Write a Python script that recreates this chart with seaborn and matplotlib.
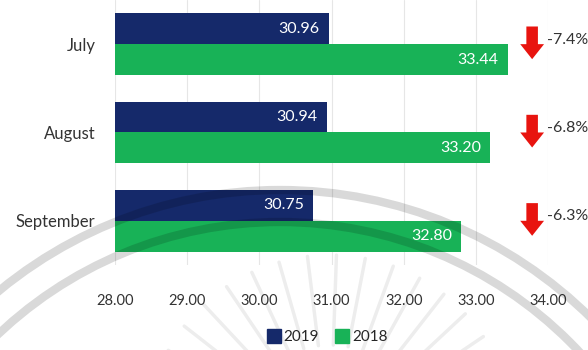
import matplotlib
matplotlib.use("Agg")
import matplotlib.pyplot as plt
import seaborn as sns
import pandas as pd
import numpy as np
from matplotlib.patches import Arc, Polygon

months = ["July", "August", "September"]
years = ["2019", "2018"]
values_2019 = [30.96, 30.94, 30.75]
values_2018 = [33.44, 33.20, 32.80]
changes = ["-7.4%", "-6.8%", "-6.3%"]
x_ticks = [28, 29, 30, 31, 32, 33, 34]

navy = "#15296a"
green = "#18b257"

df = pd.DataFrame({
    "month": months * 2,
    "year": ["2019"] * 3 + ["2018"] * 3,
    "value": values_2019 + values_2018,
})

sns.set_theme(style="white")
plt.rcParams["font.family"] = ["Lato", "DejaVu Sans"]

fig = plt.figure(figsize=(5.88, 3.5), dpi=100)
ax = fig.add_axes([0.1956, 0.243, 0.7364, 0.757])

sns.barplot(data=df, y="month", x="value", hue="year", order=months,
            hue_order=years, palette=[navy, green], orient="h",
            width=0.7, saturation=1, ax=ax, legend=False,
            edgecolor="none", linewidth=0)

ax.set_xlim(28, 34)
ax.set_xticks(x_ticks)
ax.set_xticklabels([f"{t:.2f}" for t in x_ticks], fontsize=10.5, color="#333333")
ax.tick_params(axis="x", pad=21, length=0)
ax.tick_params(axis="y", pad=14, length=0, labelsize=12, labelcolor="#333333")
ax.set_xlabel("")
ax.set_ylabel("")
ax.xaxis.grid(True, color="#e6e6e6", lw=0.8)
ax.set_axisbelow(True)
for s in ax.spines.values():
    s.set_visible(False)

for container in ax.containers:
    for bar in container:
        v = bar.get_width()
        ax.text(v - 0.13, bar.get_y() + bar.get_height() / 2, f"{v:.2f}",
                ha="right", va="center", color="white", fontsize=11.5)

# red down arrows with the year-on-year change
for i, ch in enumerate(changes):
    xc, top, bot = 33.78, i - 0.2, i + 0.17
    sw, hw, hl = 0.08, 0.165, 0.17
    pts = [(xc - sw, top), (xc + sw, top), (xc + sw, bot - hl), (xc + hw, bot - hl),
           (xc, bot), (xc - hw, bot - hl), (xc - sw, bot - hl)]
    ax.add_patch(Polygon(pts, closed=True, color="#e8140f", lw=0, clip_on=False))
    ax.text(33.99, i - 0.05, ch, ha="left", va="center", fontsize=11.5,
            color="#333333", clip_on=False)

handles = [plt.Line2D([], [], marker="s", ls="", markersize=10, color=c) for c in [navy, green]]
fig.legend(handles, years, loc="center", bbox_to_anchor=(0.556, 0.037), ncol=2,
           frameon=False, fontsize=11, handletextpad=0.15, columnspacing=1.0,
           handlelength=1.0)

# faint watermark: two concentric arcs and a fan of rays
wm = fig.add_axes([0, 0, 1, 1], zorder=5)
wm.set_xlim(0, 588)
wm.set_ylim(350, 0)
wm.axis("off")
for r in (442, 410):
    wm.add_patch(Arc((280, 632), 2 * r, 2 * r, theta1=180, theta2=360,
                     color="black", lw=6, alpha=0.15))
cx, cy = 330, 440
for ang in np.arange(25, 160, 9):
    a = np.deg2rad(ang)
    r0, r1 = 95, 185
    wm.plot([cx + r0 * np.cos(a), cx + r1 * np.cos(a)],
            [cy - r0 * np.sin(a), cy - r1 * np.sin(a)],
            color="black", lw=2.5, alpha=0.07, solid_capstyle="round")

fig.savefig("out.png", dpi=100)
